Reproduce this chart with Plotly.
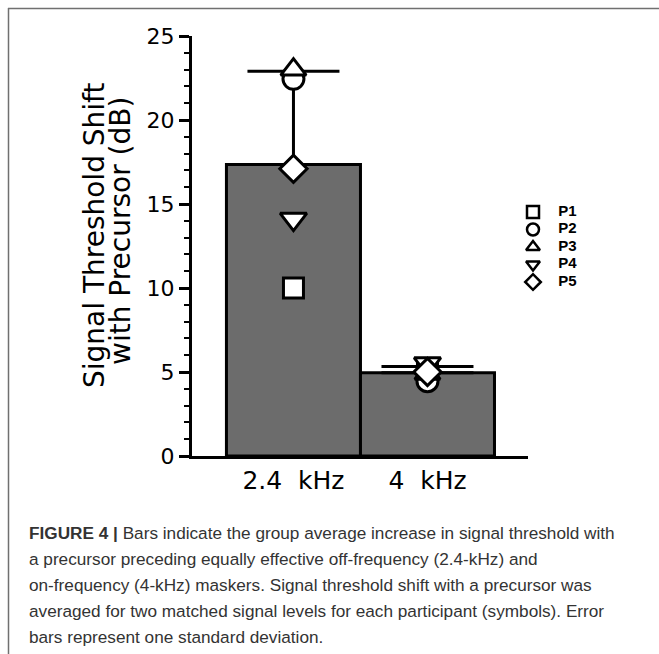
import plotly.graph_objects as go

# ---- data ----
categories = ["2.4\u00a0\u00a0kHz", "4\u00a0\u00a0kHz"]
x_pos = [0, 1]
group_mean = [17.35, 4.95]
group_sd = [5.55, 0.37]

participants = ["P1", "P2", "P3", "P4", "P5"]
p_values = {
    "P1": [10.0, 5.2],
    "P2": [22.45, 4.45],
    "P3": [23.0, 4.9],
    "P4": [14.1, 5.5],
    "P5": [17.1, 5.0],
}
symbols = {"P1": "square", "P2": "circle", "P3": "triangle-up",
           "P4": "triangle-down", "P5": "diamond"}
msizes = {"P1": 20, "P2": 21, "P3": 22, "P4": 23, "P5": 21}

y_ticks = [0, 5, 10, 15, 20, 25]

caption_lines = [
    "<b>FIGURE 4 |</b> Bars indicate the group average increase in signal threshold with",
    "a precursor preceding equally effective off-frequency (2.4-kHz) and",
    "on-frequency (4-kHz) maskers. Signal threshold shift with a precursor was",
    "averaged for two matched signal levels for each participant (symbols). Error",
    "bars represent one standard deviation.",
]

# ---- layout geometry (pixels) ----
W, H = 659, 654
ML, MR, MT, MB = 192, 20, 36, 198
PW = W - ML - MR          # plotting area incl. legend zone
PH = H - MT - MB
AX_RIGHT = 528            # right end of the x axis line


def px_x(px):
    return (px - ML) / PW


def px_y(py):
    return (H - MB - py) / PH


FONT = "DejaVu Sans, sans-serif"
CAP_FONT = "Liberation Sans, Arial, sans-serif"

fig = go.Figure()

fig.add_trace(go.Bar(
    x=x_pos, y=group_mean, width=1,
    marker=dict(color="#6c6c6c", line=dict(color="black", width=3)),
    error_y=dict(type="data", symmetric=False, array=group_sd,
                 arrayminus=[0, 0], color="black", thickness=3, width=46),
    showlegend=False, hoverinfo="skip",
))

for p in participants:
    fig.add_trace(go.Scatter(
        x=x_pos, y=p_values[p], mode="markers", name=p, showlegend=False,
        marker=dict(symbol=symbols[p], size=msizes[p],
                    color="white", line=dict(color="black", width=3)),
    ))

# legend key drawn on an overlay axis (1 unit = 1 px horizontally, 1 row vertically)
LEG_X, LEG_Y0, LEG_DY = 533, 212, 17.5
fig.add_trace(go.Scatter(
    x=[0] * len(participants), y=list(range(len(participants))),
    xaxis="x2", yaxis="y2", mode="markers+text",
    text=["\u00a0\u00a0\u00a0\u00a0" + p for p in participants],
    textposition="middle right",
    textfont=dict(family="Liberation Sans, Arial, sans-serif", size=15,
                  color="black", weight="bold"),
    marker=dict(symbol=[symbols[p] for p in participants], size=12,
                color="white", line=dict(color="black", width=2.5)),
    cliponaxis=False, showlegend=False, hoverinfo="skip",
))

annotations = [
    dict(text="Signal Threshold Shift", textangle=-90,
         xref="paper", yref="paper", x=px_x(94), y=px_y(236),
         xanchor="center", yanchor="middle", showarrow=False,
         font=dict(family=FONT, size=28, color="black")),
    dict(text="with Precursor (dB)", textangle=-90,
         xref="paper", yref="paper", x=px_x(120), y=px_y(231),
         xanchor="center", yanchor="middle", showarrow=False,
         font=dict(family=FONT, size=28, color="black")),
]
cap_y = [533, 559, 585, 611, 637]
for line, cy in zip(caption_lines, cap_y):
    annotations.append(dict(
        text=line, xref="paper", yref="paper", x=px_x(27), y=px_y(cy),
        xanchor="left", yanchor="middle", showarrow=False, align="left",
        font=dict(family=CAP_FONT, size=17.2, color="#333333")))

shapes = [
    dict(type="line", xref="paper", yref="paper", x0=px_x(8), x1=px_x(660),
         y0=px_y(8.5), y1=px_y(8.5), line=dict(color="#707070", width=1.5)),
    dict(type="line", xref="paper", yref="paper", x0=px_x(8.5), x1=px_x(8.5),
         y0=px_y(8), y1=px_y(655), line=dict(color="#707070", width=1.5)),
]

fig.update_layout(
    width=W, height=H,
    margin=dict(l=ML, r=MR, t=MT, b=MB, pad=0),
    paper_bgcolor="white", plot_bgcolor="rgba(0,0,0,0)",
    font=dict(family=FONT, color="black"),
    annotations=annotations, shapes=shapes,
    showlegend=False,
    xaxis=dict(domain=[0, (AX_RIGHT - ML) / PW],
               range=[-0.757, 1.75], tickvals=x_pos, ticktext=categories,
               showline=True, linewidth=3, linecolor="black", ticks="",
               showgrid=False, zeroline=False,
               tickfont=dict(family=FONT, size=25, color="black")),
    yaxis=dict(range=[0, 25], tickvals=y_ticks, showline=True, linewidth=3,
               linecolor="black", ticks="outside", ticklen=10, tickwidth=3,
               tickcolor="black", showgrid=False, zeroline=False,
               minor=dict(dtick=1, ticks="outside", ticklen=5, tickwidth=2,
                          tickcolor="black", showgrid=False),
               tickfont=dict(family=FONT, size=22, color="black")),
    xaxis2=dict(domain=[0, 1], anchor="y2",
                range=[ML - LEG_X, ML + PW - LEG_X],
                visible=False, fixedrange=True, showgrid=False, zeroline=False),
    yaxis2=dict(domain=[0, 1], anchor="x2",
                range=[(H - MB - LEG_Y0) / LEG_DY, (MT - LEG_Y0) / LEG_DY],
                visible=False, fixedrange=True, showgrid=False, zeroline=False),
)

fig.write_html("out.html")
